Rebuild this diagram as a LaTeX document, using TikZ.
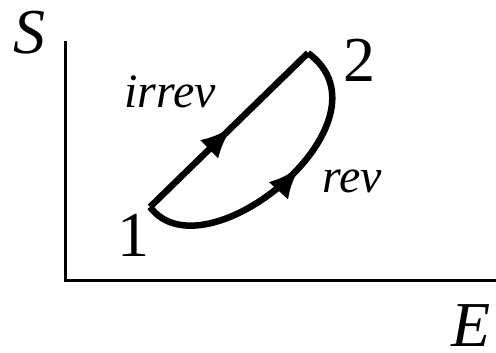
\documentclass[tikz,border=0pt]{standalone}
\usepackage{fontspec}
\setmainfont{Liberation Serif}
\newfontfamily\tnr{Liberation Serif}
\usetikzlibrary{arrows.meta,decorations.markings}
\tikzset{
  axisline/.style={line width=3pt, line join=miter},
  pathline/.style={line width=6.5pt, line join=miter},
  lbl/.style={inner sep=0pt, font=\tnr\fontsize{48}{52}\selectfont\itshape},
  bigital/.style={inner sep=0pt, font=\tnr\fontsize{64}{70}\selectfont\itshape},
  numlbl/.style={inner sep=0pt, font=\tnr\fontsize{64}{70}\selectfont},
  midarrow/.style={postaction={decorate}, decoration={markings,
     mark=at position #1 with {\arrow{Latex[length=32pt,width=26pt]}}}}
}
\begin{document}
\begin{tikzpicture}[x=1pt,y=-1pt]
\useasboundingbox (0,0) rectangle (496,353);
\coordinate (top) at (65,41);
\coordinate (origin) at (65,280);
\coordinate (right) at (496,280);
\draw[axisline] (top) -- (origin) -- (right);
\node[bigital] (S) at (29,33) {S};
\node[bigital] (E) at (471,326) {E};
\coordinate (p1) at (150,207);
\coordinate (p2) at (308,53);
\draw[pathline, midarrow=0.52] (p1) -- (p2);
\draw[pathline, midarrow=0.57] (p1) .. controls (205,280) and (400,120) .. (p2);
\node[numlbl] (n1) at (133,235) {1};
\node[numlbl] (n2) at (359,60) {2};
\node[lbl, anchor=base] (irrev) at (170,108) {irrev};
\node[lbl, anchor=base] (rev) at (352,192) {rev};
\end{tikzpicture}
\end{document}
